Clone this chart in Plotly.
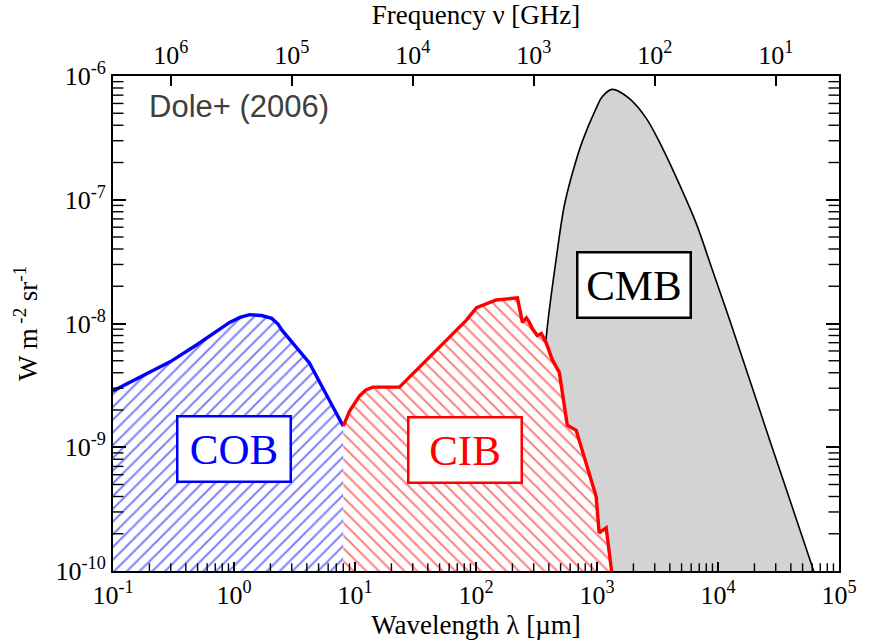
import math
import plotly.graph_objects as go

# ---------------- data ----------------
# Cosmic Optical Background (Dole+ 2006)
cob_wl = [0.1, 0.296, 0.49, 0.92, 1.12, 1.35, 1.69, 2.05, 2.31, 2.5, 4.2, 8.0]
cob_val = [2.85e-9, 4.9e-9, 6.7e-9, 1.02e-8, 1.12e-8, 1.18e-8, 1.16e-8, 1.1e-8,
           9.9e-9, 8.8e-9, 4.8e-9, 1.48e-9]

# Cosmic Infrared Background
cib_wl = [8.0, 9.0, 10.9, 12.3, 14.0, 23.3, 83, 101, 147, 220, 242, 261, 276, 292, 321,
          347, 381, 427, 488, 568, 673, 984, 1042, 1191, 1310, 1360]
cib_val = [1.48e-9, 1.95e-9, 2.6e-9, 2.9e-9, 3.06e-9, 3.06e-9, 1.06e-8, 1.34e-8, 1.55e-8,
           1.61e-8, 1.02e-8, 1.11e-8, 1.02e-8, 9.1e-9, 8.0e-9, 8.3e-9, 6.95e-9,
           5.1e-9, 4.03e-9, 1.51e-9, 1.37e-9, 3.99e-10, 2.03e-10, 2.23e-10,
           1.06e-10, 8e-11]

# Cosmic Microwave Background
cmb_wl = [265, 290, 330, 388, 460, 536, 624, 755, 985, 1104, 1334, 1844,
          2547, 3452, 4768, 6580, 8915, 12330, 27100, 59700, 63000]
cmb_val = [8e-11, 3e-10, 1.6e-9, 9.3e-9, 3.33e-8, 8.9e-8, 1.62e-7, 2.95e-7,
           5.5e-7, 6.8e-7, 7.8e-7, 6.6e-7, 4.57e-7, 2.65e-7, 1.35e-7,
           6.5e-8, 2.77e-8, 1.11e-8, 1.1e-9, 1.11e-10, 9.4e-11]

# axes
x_ticks = [1e-1, 1e0, 1e1, 1e2, 1e3, 1e4, 1e5]
x_ticktext = ["10<sup>-1</sup>", "10<sup>0</sup>", "10<sup>1</sup>", "10<sup>2</sup>",
              "10<sup>3</sup>", "10<sup>4</sup>", "10<sup>5</sup>"]
y_ticks = [1e-10, 1e-9, 1e-8, 1e-7, 1e-6]
y_ticktext = ["10<sup>-10</sup>", "10<sup>-9</sup>", "10<sup>-8</sup>",
              "10<sup>-7</sup>", "10<sup>-6</sup>"]
freq_ticks_ghz = [1e6, 1e5, 1e4, 1e3, 1e2, 1e1]
freq_ticktext = ["10<sup>6</sup>", "10<sup>5</sup>", "10<sup>4</sup>",
                 "10<sup>3</sup>", "10<sup>2</sup>", "10<sup>1</sup>"]
C_UM_GHZ = 299792.458  # lambda[um] = c / nu[GHz]
minor_mult = [2, 3, 4, 5, 6, 7, 8, 9]

# labels
labels = ["COB", "CIB", "CMB"]
label_wl = [1.0, 81, 2030]
label_val = [9.7e-10, 9.5e-10, 2.03e-8]
label_colors = ["blue", "red", "black"]

X_RANGE = [-1, 5]
Y_RANGE = [-10, -6]

SERIF = "Liberation Serif"

fig = go.Figure()

# CMB (grey filled)
fig.add_trace(go.Scatter(
    x=cmb_wl, y=cmb_val, mode="lines", fill="tozeroy", fillcolor="#d3d3d3",
    line=dict(color="black", width=1.6, shape="spline", smoothing=1.0),
    hoverinfo="skip", showlegend=False))

# COB (blue hatch)
fig.add_trace(go.Scatter(
    x=cob_wl, y=cob_val, mode="lines", fill="tozeroy", fillcolor="white",
    fillpattern=dict(shape="/", fgcolor="blue", bgcolor="white", size=9, solidity=0.22),
    line=dict(color="blue", width=3.4),
    hoverinfo="skip", showlegend=False))

# CIB (red hatch)
fig.add_trace(go.Scatter(
    x=cib_wl, y=cib_val, mode="lines", fill="tozeroy", fillcolor="white",
    fillpattern=dict(shape="\\", fgcolor="red", bgcolor="white", size=9, solidity=0.22),
    line=dict(color="red", width=3.4),
    hoverinfo="skip", showlegend=False))

# invisible trace to activate the top (frequency) axis
fig.add_trace(go.Scatter(
    x=cmb_wl, y=cmb_val, xaxis="x2", mode="lines", line=dict(width=0),
    opacity=0, hoverinfo="skip", showlegend=False))

# minor ticks: tick-shaped markers centred on the frame, half clipped away
x_lo, x_hi = 10 ** X_RANGE[0], 10 ** X_RANGE[1]
y_lo, y_hi = 10 ** Y_RANGE[0], 10 ** Y_RANGE[1]
x_minor = [m * 10 ** e for e in range(X_RANGE[0], X_RANGE[1]) for m in minor_mult]
y_minor = [m * 10 ** e for e in range(Y_RANGE[0], Y_RANGE[1]) for m in minor_mult]

fig.add_trace(go.Scatter(
    x=x_minor, y=[y_lo] * len(x_minor), mode="markers", cliponaxis=True,
    marker=dict(symbol="line-ns", size=11, color="black",
                line=dict(width=1.4, color="black")),
    hoverinfo="skip", showlegend=False))
fig.add_trace(go.Scatter(
    x=[x_lo] * len(y_minor) + [x_hi] * len(y_minor), y=y_minor + y_minor,
    mode="markers", cliponaxis=True,
    marker=dict(symbol="line-ew", size=15, color="black",
                line=dict(width=1.4, color="black")),
    hoverinfo="skip", showlegend=False))

for txt, wl, val, col in zip(labels, label_wl, label_val, label_colors):
    fig.add_annotation(
        x=math.log10(wl), y=math.log10(val), xref="x", yref="y", text=txt,
        showarrow=False, font=dict(family=SERIF, size=43, color=col),
        bgcolor="white", bordercolor=col, borderwidth=2.5, borderpad=0,
        width=111, height=63, xanchor="center", yanchor="middle")

fig.add_annotation(
    x=0.047, y=0.938, xref="paper", yref="paper", text="Dole+ (2006)",
    showarrow=False, xanchor="left", yanchor="middle",
    font=dict(family="Liberation Sans", size=31, color="#404040"))

tickfont = dict(family=SERIF, size=26, color="black")

fig.update_layout(
    width=869, height=643,
    margin=dict(l=113, r=29, t=70, b=67),
    paper_bgcolor="white", plot_bgcolor="white",
    xaxis=dict(
        type="log", range=X_RANGE, autorange=False,
        tickmode="array", tickvals=x_ticks, ticktext=x_ticktext,
        ticks="inside", ticklen=9, tickwidth=1.6, tickcolor="black",
        showline=True, linecolor="black", linewidth=2, mirror=False,
        showgrid=False, zeroline=False, tickfont=tickfont, layer="above traces",
        title=dict(text="Wavelength λ [µm]", font=dict(family=SERIF, size=27, color="black"),
                   standoff=2)),
    xaxis2=dict(
        type="log", range=X_RANGE, autorange=False, overlaying="x", side="top",
        tickmode="array", tickvals=[C_UM_GHZ / f for f in freq_ticks_ghz],
        ticktext=freq_ticktext,
        ticks="inside", ticklen=10, tickwidth=1.6, tickcolor="black",
        showline=True, linecolor="black", linewidth=2,
        showgrid=False, zeroline=False, tickfont=tickfont, layer="above traces",
        title=dict(text="Frequency ν [GHz]", font=dict(family=SERIF, size=27, color="black"),
                   standoff=6)),
    yaxis=dict(
        type="log", range=Y_RANGE, autorange=False,
        tickmode="array", tickvals=y_ticks, ticktext=y_ticktext,
        ticks="inside", ticklen=13, tickwidth=1.6, tickcolor="black",
        showline=True, linecolor="black", linewidth=2, mirror="ticks",
        showgrid=False, zeroline=False, tickfont=tickfont, layer="above traces",
        title=dict(text="W m<sup> -2</sup> sr<sup>-1</sup>",
                   font=dict(family=SERIF, size=27, color="black"), standoff=10)),
)

fig.write_html("out.html")
